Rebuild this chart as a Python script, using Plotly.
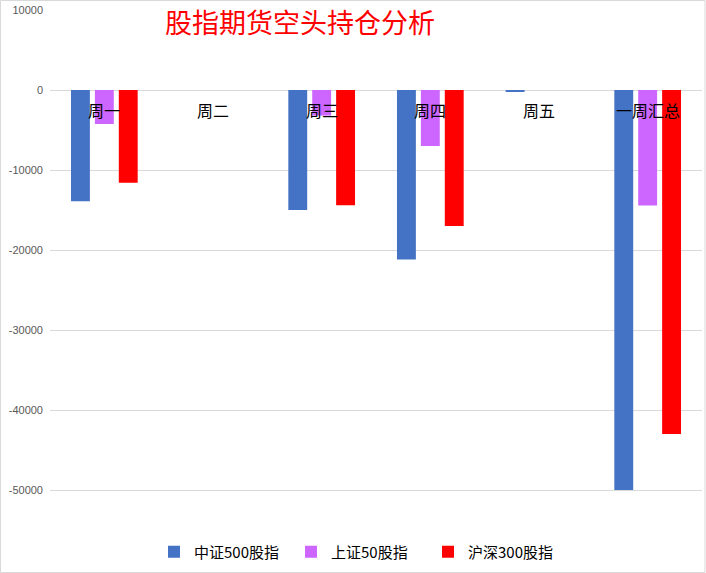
import plotly.graph_objects as go

categories = ["周一", "周二", "周三", "周四", "周五", "一周汇总"]
series_names = ["中证500股指", "上证50股指", "沪深300股指"]
zz500 = [-13900, 0, -15000, -21200, -150, -50000]
sz50 = [-4250, 0, -3200, -7000, 0, -14450]
hs300 = [-11600, 0, -14400, -17000, 0, -43000]
colors = ["#4472C4", "#CC66FF", "#FF0000"]
ytick_vals = [10000, 0, -10000, -20000, -30000, -40000, -50000, -60000]
ytick_text = ["10000", "0", "-10000", "-20000", "-30000", "-40000", "-50000", "-60000"]
title_text = "股指期货空头持仓分析"

W, H = 706, 573
ml, mr, mt, mb = 50, 4, 10, 3
pw = W - ml - mr
ph = H - mt - mb

fig = go.Figure()
for name, vals, c in zip(series_names, [zz500, sz50, hs300], colors):
    fig.add_trace(go.Bar(x=categories, y=vals, name=name, marker_color=c,
                         marker_line_width=0))

annotations = [
    dict(x=c, y=0, xref="x", yref="y", text=c, showarrow=False,
         yshift=-20, yanchor="middle",
         font=dict(size=16, color="#000000", family="Noto Sans CJK SC"))
    for c in categories
]
annotations.append(dict(x=(300 - ml) / pw, y=(H - mb - 21) / ph, xref="paper", yref="paper",
                        text=title_text, showarrow=False, xanchor="center", yanchor="middle",
                        font=dict(size=27, color="#FF0000", family="Noto Sans CJK SC")))

fig.update_layout(
    width=W, height=H,
    margin=dict(l=ml, r=mr, t=mt, b=mb),
    paper_bgcolor="white", plot_bgcolor="white",
    barmode="group", bargap=0.34, bargroupgap=0.21,
    showlegend=True,
    legend=dict(orientation="h", x=(154 - ml) / pw, xanchor="left", y=(H - mb - 552) / ph,
                yanchor="middle", bgcolor="rgba(0,0,0,0)",
                entrywidth=92, entrywidthmode="pixels",
                font=dict(size=15, color="#000000", family="Noto Sans CJK SC")),
    annotations=annotations,
    shapes=[dict(type="rect", xref="paper", yref="paper",
                 x0=(0.5 - ml) / pw, x1=(705 - ml) / pw,
                 y0=(H - mb - 572.5) / ph, y1=(H - mb - 0.5) / ph,
                 line=dict(color="#D9D9D9", width=1), layer="above")],
    font=dict(family="Liberation Sans"),
)
fig.update_xaxes(showticklabels=False, showgrid=False, showline=False, zeroline=False,
                 ticks="")
fig.update_yaxes(range=[-60000, 10000], tickvals=ytick_vals, ticktext=ytick_text,
                 showgrid=True, gridcolor="#D9D9D9", gridwidth=1,
                 zeroline=True, zerolinecolor="#D9D9D9", zerolinewidth=1,
                 showline=False, ticks="", ticklen=0, ticklabelstandoff=6,
                 tickfont=dict(size=11, color="#595959", family="Liberation Sans"))

fig.write_html("out.html", config={"displayModeBar": False},
               post_script="document.body.style.margin='0';")
